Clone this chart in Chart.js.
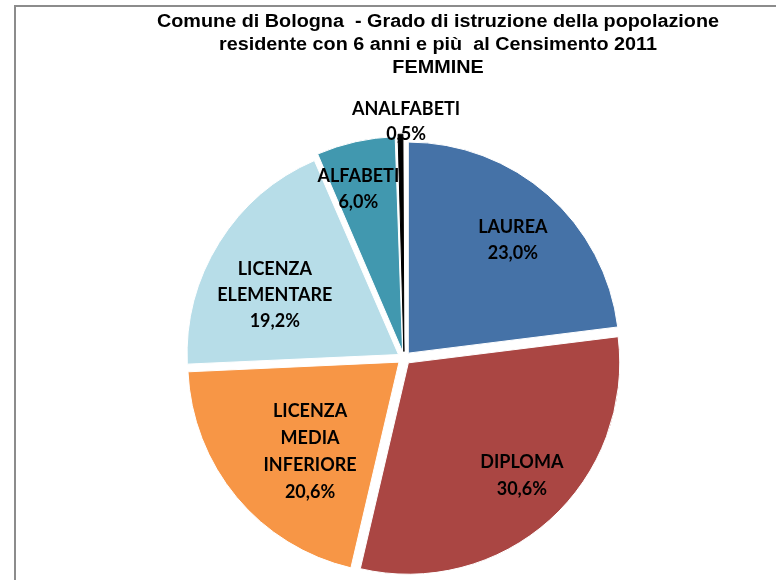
<!DOCTYPE html>
<html>
<head>
<meta charset="utf-8">
<script src="https://cdn.jsdelivr.net/npm/chart.js@4"></script>
<style>
    html, body { margin: 0; padding: 0; background: #fff; }
    #wrap { position: absolute; left: 0; top: 0; width: 776px; height: 580px; }
</style>
</head>
<body>
<div id="wrap"><canvas id="pie" width="776" height="580"></canvas></div>
<script>
// data
const categories = [ 'LAUREA', 'DIPLOMA', 'LICENZA MEDIA INFERIORE', 'LICENZA ELEMENTARE', 'ALFABETI', 'ANALFABETI' ];
const labelLines = [ [ 'LAUREA' ], [ 'DIPLOMA' ], [ 'LICENZA', 'MEDIA', 'INFERIORE' ], [ 'LICENZA', 'ELEMENTARE' ], [ 'ALFABETI' ], [ 'ANALFABETI' ] ];
const percentages = [ 23.0, 30.6, 20.6, 19.2, 6.0, 0.5 ];
const titleLines = [
    'Comune di Bologna  - Grado di istruzione della popolazione',
    'residente con 6 anni e più  al Censimento 2011',
    'FEMMINE'
];

const colors = [ '#4572A7', '#AA4643', '#F79646', '#B7DDE8', '#4198AF', '#000000' ];
const borders = [ '#ffffff', '#ffffff', '#ffffff', '#ffffff', '#ffffff', '#000000' ];
// where each label sits: fraction of radius, nudge of the angle (deg)
const labelDist = [ 0.76, 0.79, 0.63, 0.68, 0.83, 1.12 ];
const labelTurn = [ 1.3, -3, -5.3, -6.2, -2.5, 1.4 ];
const labelGap  = [ 26, 27, 27, 26, 26, 25 ];

const fmt = v => v.toFixed( 1 ).replace( '.', ',' ) + '%';

const framePlugin = {
    id : 'frame',
    beforeDraw( chart )
    {
        const ctx = chart.ctx;
        ctx.save();
        ctx.strokeStyle = '#8c8c8c';
        ctx.lineWidth = 2;
        ctx.strokeRect( 15, 6, 900, 700 );
        ctx.restore();
    },
    afterDraw( chart )
    {
        const ctx = chart.ctx;
        ctx.save();
        ctx.fillStyle = '#000';
        ctx.textAlign = 'center';
        ctx.textBaseline = 'alphabetic';
        ctx.font = 'bold 18px "Liberation Sans", Arial, sans-serif';
        titleLines.forEach( ( t, i ) =>
        {
            ctx.save();
            ctx.translate( 438, 27 + i * 23 );
            ctx.scale( 1.1, 1 );
            ctx.fillText( t, 0, 0 );
            ctx.restore();
        });

        // slice labels
        const meta = chart.getDatasetMeta( 0 );
        ctx.font = 'bold 18px Lato, "Open Sans", sans-serif';
        ctx.textBaseline = 'middle';
        meta.data.forEach( ( arc, i ) =>
        {
            const p = arc.getProps( [ 'x', 'y', 'startAngle', 'endAngle', 'outerRadius' ], true );
            const a = ( p.startAngle + p.endAngle ) / 2 + labelTurn[ i ] * Math.PI / 180;
            const d = p.outerRadius * labelDist[ i ];
            const cx = p.x + Math.cos( a ) * d;
            const cy = p.y + Math.sin( a ) * d;
            const lines = labelLines[ i ].concat( [ fmt( percentages[ i ] ) ] );
            const lh = labelGap[ i ];
            const top = cy - ( lines.length - 1 ) * lh / 2;
            lines.forEach( ( l, j ) => ctx.fillText( l, cx, top + j * lh ) );
        });
        ctx.restore();
    }
};

new Chart( document.getElementById( 'pie' ), {
    type : 'pie',
    data : {
        labels : categories,
        datasets : [ {
            data            : percentages,
            backgroundColor : colors,
            borderColor     : borders,
            borderWidth     : 1,
            offset          : 26,
            hoverOffset     : 26
        } ]
    },
    options : {
        responsive : false,
        animation  : false,
        radius     : 211,
        layout     : { padding : { left : 40, right : 8, top : 140, bottom : 4 } },
        plugins    : {
            legend  : { display : false },
            tooltip : { enabled : false },
            title   : { display : false }
        }
    },
    plugins : [ framePlugin ]
});
</script>
</body>
</html>
